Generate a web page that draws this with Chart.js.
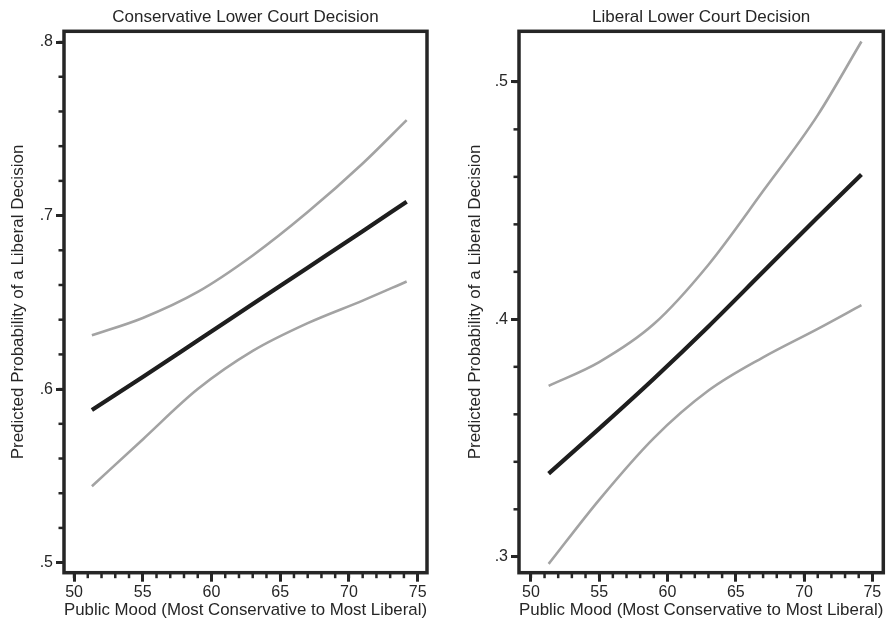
<!DOCTYPE html>
<html>
<head>
<meta charset="utf-8">
<script src="https://cdn.jsdelivr.net/npm/chart.js@4.4.1/dist/chart.umd.min.js"></script>
<style>
  html, body { margin: 0; padding: 0; background: #fff; }
  #wrap { position: relative; width: 893px; height: 621px; overflow: hidden; }
  canvas { position: absolute; top: 0; }
  #consChart { left: 0; }
  #libChart { left: 455px; }
</style>
</head>
<body>
<div id="wrap">
  <canvas id="consChart" width="446" height="621"></canvas>
  <canvas id="libChart" width="438" height="621"></canvas>
</div>
<script>
// public mood values where the predictions were read
const moodPoints = [51.3, 55, 59, 63, 67, 71, 74.2];

// conservative lower court decision
const consFit   = [0.588, 0.607, 0.628, 0.649, 0.670, 0.691, 0.708];
const consUpper = [0.631, 0.641, 0.656, 0.677, 0.702, 0.730, 0.755];
const consLower = [0.544, 0.571, 0.600, 0.622, 0.638, 0.651, 0.662];

// liberal lower court decision
const libFit   = [0.335, 0.354, 0.375, 0.397, 0.420, 0.443, 0.461];
const libUpper = [0.372, 0.382, 0.398, 0.423, 0.454, 0.486, 0.517];
const libLower = [0.297, 0.324, 0.350, 0.370, 0.384, 0.396, 0.406];

// axis ticks
const xTicks = [50, 55, 60, 65, 70, 75];
const consYTicks = [0.5, 0.6, 0.7, 0.8];
const consYLabels = [".5", ".6", ".7", ".8"];
const libYTicks = [0.3, 0.4, 0.5];
const libYLabels = [".3", ".4", ".5"];

const INK = "#262626";
const GREY = "#a3a3a3";
const FONT = "'Liberation Sans', Arial, Helvetica, sans-serif";

function pts(ys) {
    return moodPoints.map((x, i) => ({ x: x, y: ys[i] }));
}

function range(from, to, step) {
    const out = [];
    for (let v = from; v <= to + step / 2; v += step) out.push(+v.toFixed(4));
    return out;
}

// box round the plot area and the short minor ticks
const frame = {
    id: "frame",
    afterDatasetsDraw(chart, args, opts) {
        const { ctx, chartArea: a } = chart;
        const xs = chart.scales.x, ys = chart.scales.y;
        ctx.save();
        ctx.strokeStyle = INK;
        ctx.lineWidth = 2.5;
        opts.xMinor.forEach(v => {
            const px = xs.getPixelForValue(v);
            ctx.beginPath();
            ctx.moveTo(px, a.bottom);
            ctx.lineTo(px, a.bottom + 5.5);
            ctx.stroke();
        });
        opts.yMinor.forEach(v => {
            const py = ys.getPixelForValue(v);
            ctx.beginPath();
            ctx.moveTo(a.left, py);
            ctx.lineTo(a.left - 5.5, py);
            ctx.stroke();
        });
        ctx.lineWidth = 3.5;
        ctx.strokeRect(a.left, a.top, a.right - a.left, a.bottom - a.top);
        ctx.restore();
    }
};

function makeChart(id, cfg) {
    const yLabels = {};
    cfg.yTicks.forEach((v, i) => { yLabels[v] = cfg.yLabels[i]; });

    return new Chart(document.getElementById(id), {
        type: "line",
        data: {
            datasets: [
                { data: pts(cfg.upper), borderColor: GREY, borderWidth: 2.6 },
                { data: pts(cfg.lower), borderColor: GREY, borderWidth: 2.6 },
                { data: pts(cfg.fit), borderColor: "#1e1e1e", borderWidth: 4.2 }
            ]
        },
        options: {
            responsive: false,
            animation: false,
            layout: { padding: { left: 0, right: cfg.padRight, top: 0, bottom: 0 } },
            elements: {
                point: { radius: 0 },
                line: { cubicInterpolationMode: "monotone", fill: false, borderCapStyle: "butt" }
            },
            plugins: {
                legend: { display: false },
                tooltip: { enabled: false },
                title: {
                    display: true,
                    text: cfg.title,
                    fullSize: false,
                    color: INK,
                    font: { family: FONT, size: 17, weight: "normal" },
                    padding: { top: 7.3, bottom: 3.6 }
                },
                frame: { xMinor: range(50, 75, 1), yMinor: cfg.yMinor }
            },
            scales: {
                x: {
                    type: "linear",
                    min: cfg.xMin,
                    max: cfg.xMax,
                    afterBuildTicks: s => { s.ticks = xTicks.map(v => ({ value: v })); },
                    afterFit: s => { s.height = 48.3; },
                    border: { display: false },
                    grid: { drawOnChartArea: false, drawTicks: true, tickLength: 9, tickWidth: 3, tickColor: INK },
                    ticks: { color: INK, padding: 1, maxRotation: 0, font: { family: FONT, size: 16 } },
                    title: {
                        display: true,
                        text: "Public Mood (Most Conservative to Most Liberal)",
                        color: INK,
                        font: { family: FONT, size: 17 },
                        padding: { top: 0, bottom: 0 }
                    }
                },
                y: {
                    min: cfg.yMin,
                    max: cfg.yMax,
                    afterBuildTicks: s => { s.ticks = cfg.yTicks.map(v => ({ value: v })); },
                    afterFit: s => { s.width = 64; },
                    border: { display: false },
                    grid: { drawOnChartArea: false, drawTicks: true, tickLength: 8, tickWidth: 3, tickColor: INK },
                    ticks: {
                        color: INK,
                        padding: 3,
                        font: { family: FONT, size: 16 },
                        callback: v => yLabels[v]
                    },
                    title: {
                        display: true,
                        text: "Predicted Probability of a Liberal Decision",
                        color: INK,
                        font: { family: FONT, size: 17 },
                        padding: { top: cfg.yTitlePad, bottom: 0 }
                    }
                }
            }
        },
        plugins: [frame]
    });
}

makeChart("consChart", {
    title: "Conservative Lower Court Decision",
    fit: consFit, upper: consUpper, lower: consLower,
    yTicks: consYTicks, yLabels: consYLabels,
    yMinor: range(0.5, 0.8, 0.02),
    xMin: 49.27, xMax: 75.68,
    yMin: 0.4942, yMax: 0.8062,
    padRight: 19,
    yTitlePad: 7.8
});

makeChart("libChart", {
    title: "Liberal Lower Court Decision",
    fit: libFit, upper: libUpper, lower: libLower,
    yTicks: libYTicks, yLabels: libYLabels,
    yMinor: range(0.3, 0.5, 0.02),
    xMin: 49.13, xMax: 75.8,
    yMin: 0.2933, yMax: 0.5213,
    padRight: 9.7,
    yTitlePad: 9.8
});
</script>
</body>
</html>
